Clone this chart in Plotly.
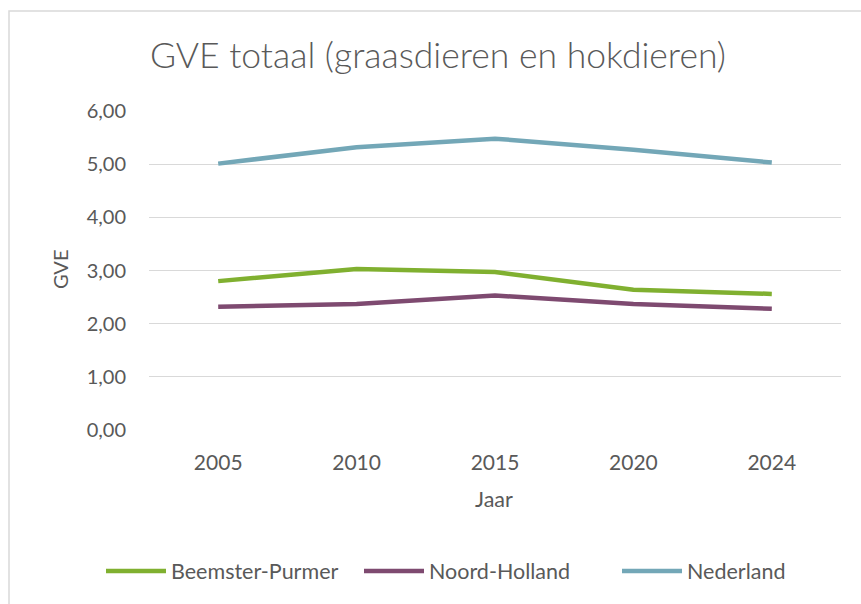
import plotly.graph_objects as go

years = ["2005", "2010", "2015", "2020", "2024"]
beemster = [2.80, 3.03, 2.97, 2.64, 2.56]
noord_holland = [2.32, 2.37, 2.53, 2.37, 2.28]
nederland = [5.01, 5.32, 5.48, 5.27, 5.03]
y_ticks = [0, 1, 2, 3, 4, 5, 6]
y_tick_labels = ["0,00", "1,00", "2,00", "3,00", "4,00", "5,00", "6,00"]

series = [
    ("Beemster-Purmer", beemster, "#80b030"),
    ("Noord-Holland", noord_holland, "#7e4a70"),
    ("Nederland", nederland, "#73a7b7"),
]

FONT = "Lato"
TXT = "#595959"
W, H = 861, 604
L, R, T, B = 149, 861 - 841, 111, 604 - 430

fig = go.Figure()
for name, vals, col in series:
    fig.add_trace(go.Scatter(x=years, y=vals, name=name, mode="lines",
                             line=dict(color=col, width=4.5)))

pw = W - L - R
ph = H - T - B

def px(x):
    return (x - L) / pw

def py(y):
    return (H - B - y) / ph

fig.update_layout(
    width=W, height=H,
    margin=dict(l=L, r=R, t=T, b=B, autoexpand=False),
    paper_bgcolor="white", plot_bgcolor="white",
    font=dict(family=FONT, color=TXT, size=20),
    title=dict(text="GVE totaal (graasdieren en hokdieren)", x=438 / W, xanchor="center",
               y=1 - 56 / H, yanchor="middle", automargin=False,
               font=dict(family=FONT, size=35.5, color=TXT, weight=300)),
    xaxis=dict(type="category", range=[-0.5, 4.5], showgrid=False, showline=False,
               zeroline=False, automargin=False,
               ticks="", ticklabelstandoff=18, tickfont=dict(size=21, color=TXT)),
    yaxis=dict(range=[0, 6], tickvals=y_ticks, ticktext=y_tick_labels, automargin=False,
               showgrid=True, gridcolor="#d9d9d9", gridwidth=1, zeroline=False,
               showline=False, ticks="", ticklabelstandoff=22,
               tickfont=dict(size=20, color=TXT)),
    showlegend=True,
    legend=dict(orientation="h", x=px(101), xanchor="left", y=py(571), yanchor="middle",
                font=dict(size=21.5, color=TXT), itemwidth=60,
                entrywidth=183, tracegroupgap=0),
    shapes=[dict(type="rect", xref="paper", yref="paper",
                 x0=px(9), x1=px(900), y0=py(11), y1=py(700),
                 line=dict(color="#d9d9d9", width=1.5), layer="below")],
    annotations=[
        dict(text="GVE", xref="paper", yref="paper", x=px(60), y=py(270),
             xanchor="center", yanchor="middle", textangle=-90, showarrow=False,
             font=dict(size=20, color=TXT)),
        dict(text="Jaar", xref="paper", yref="paper", x=px(494), y=py(499),
             xanchor="center", yanchor="middle", showarrow=False,
             font=dict(size=21.5, color=TXT)),
    ],
)

fig.write_html("out.html", config={"displayModeBar": False},
               post_script="document.body.style.margin='0';")
